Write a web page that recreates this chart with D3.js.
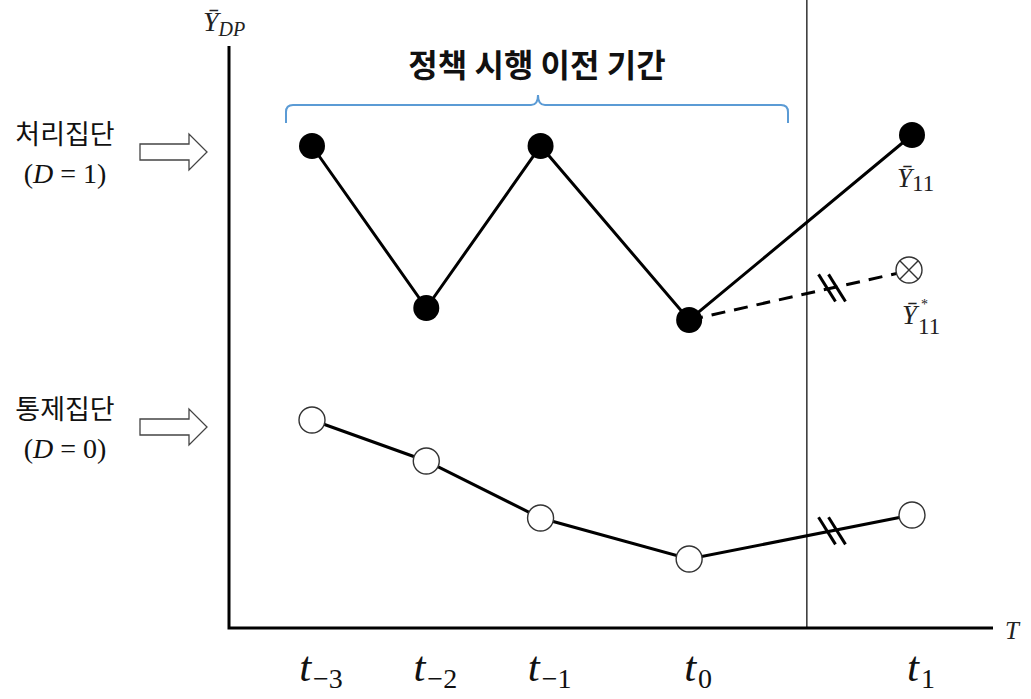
<!DOCTYPE html>
<html>
<head>
<meta charset="utf-8">
<script src="https://cdn.jsdelivr.net/npm/d3@7"></script>
<style>
  html, body { margin: 0; padding: 0; background: #fff; }
  svg { display: block; }
</style>
</head>
<body>
<svg id="chart" width="1031" height="699"></svg>
<script>
// Periods on the time axis (position in time units) and their labels
const periods = ["-3", "-2", "-1", "0", "1"];
const periodX = [-3, -2, -1, 0.3, 2.25];
const policyX = 1.33;            // moment the policy is introduced

// Group means
const treated = [9.64, 6.4, 9.64, 6.16, 9.86];
const control = [4.16, 3.34, 2.2, 1.38, 2.26];
const counterfactual = 7.16;     // treated group without the policy at t1

const svg = d3.select("#chart");
const x = d3.scaleLinear().domain([-3, 2.25]).range([312, 912]);
const y = d3.scaleLinear().domain([0, 10]).range([628, 128]);

const serif = "'Liberation Serif', 'DejaVu Serif', serif";
const kfont = "'Noto Sans CJK KR', 'Noto Sans', sans-serif";

// Policy line
svg.append("line")
  .attr("x1", x(policyX)).attr("x2", x(policyX))
  .attr("y1", 0).attr("y2", y(0))
  .attr("stroke", "#111").attr("stroke-width", 1.3);

// Axes
const axisLeft = 229, axisTop = 46, axisRight = 993;
svg.append("path")
  .attr("d", `M${axisLeft},${axisTop} V${y(0)} H${axisRight}`)
  .attr("fill", "none").attr("stroke", "#000").attr("stroke-width", 3);

// Axis titles
const yt = svg.append("text").attr("x", 203).attr("y", 31)
  .attr("font-family", serif).attr("font-style", "italic").attr("font-size", 28).attr("fill", "#222");
yt.append("tspan").text("Ȳ");
yt.append("tspan").attr("dy", 5).attr("font-size", 20).text("DP");

svg.append("text").attr("x", 1005).attr("y", 639)
  .attr("font-family", serif).attr("font-style", "italic").attr("font-size", 25).attr("fill", "#222")
  .text("T");

// Period tick labels
periods.forEach((p, i) => {
  const t = svg.append("text")
    .attr("x", x(periodX[i]) + 9).attr("y", 681)
    .attr("text-anchor", "middle")
    .attr("font-family", serif).attr("font-size", 43).attr("fill", "#111");
  t.append("tspan").attr("font-style", "italic").text("t");
  t.append("tspan").attr("dx", 2).attr("dy", 7).attr("font-size", 28).text(p.replace("-", "−"));
});

// Pre-policy bracket
const bx0 = 286, bx1 = 788, bmid = 538, btop = 95, bline = 105, bend = 123;
const r = 7;
svg.append("path")
  .attr("d", `M${bx0},${bend} V${bline + r} Q${bx0},${bline} ${bx0 + r},${bline} H${bmid - r} Q${bmid},${bline} ${bmid},${btop}` +
             ` Q${bmid},${bline} ${bmid + r},${bline} H${bx1 - r} Q${bx1},${bline} ${bx1},${bline + r} V${bend}`)
  .attr("fill", "none").attr("stroke", "#5b9bd5").attr("stroke-width", 2);

svg.append("text").attr("x", bmid - 1).attr("y", 77)
  .attr("text-anchor", "middle")
  .attr("font-family", kfont).attr("font-weight", "bold").attr("font-size", 32).attr("fill", "#111")
  .text("정책 시행 이전 기간");

// Group labels with hollow arrows
function groupLabel(name, dval, cy) {
  svg.append("text").attr("x", 65).attr("y", cy - 3)
    .attr("text-anchor", "middle")
    .attr("font-family", kfont).attr("font-size", 27).attr("fill", "#111")
    .text(name);
  const t = svg.append("text").attr("x", 65).attr("y", cy + 36)
    .attr("text-anchor", "middle")
    .attr("font-family", serif).attr("font-size", 28).attr("fill", "#111");
  t.append("tspan").text("(");
  t.append("tspan").attr("font-style", "italic").text("D");
  t.append("tspan").text(" = " + dval + ")");
  const ay = cy + 5;
  svg.append("path")
    .attr("d", `M140,${ay - 8} H189 V${ay - 18} L207,${ay} L189,${ay + 18} V${ay + 8} H140 Z`)
    .attr("fill", "#fff").attr("stroke", "#444").attr("stroke-width", 1.3);
}
groupLabel("처리집단", 1, 147);
groupLabel("통제집단", 0, 422);

const line = d3.line().x(d => x(d[0])).y(d => y(d[1]));
const tPts = periodX.map((px, i) => [px, treated[i]]);
const cPts = periodX.map((px, i) => [px, control[i]]);

// Counterfactual path (dashed)
const cfPts = [[periodX[3], treated[3]], [periodX[4], counterfactual]];
svg.append("path").attr("d", line(cfPts))
  .attr("fill", "none").attr("stroke", "#000").attr("stroke-width", 3)
  .attr("stroke-dasharray", "14,9");

// Observed paths
svg.append("path").attr("d", line(tPts))
  .attr("fill", "none").attr("stroke", "#000").attr("stroke-width", 3);
svg.append("path").attr("d", line(cPts))
  .attr("fill", "none").attr("stroke", "#000").attr("stroke-width", 3);

// Break marks on the segments that cross the policy line
function breakMark(a, b, at) {
  const f = (at - a[0]) / (b[0] - a[0]);
  const px = x(at), py = y(a[1] + f * (b[1] - a[1]));
  const ang = 58 * Math.PI / 180, h = 16;
  [-5, 5].forEach(off => {
    svg.append("line")
      .attr("x1", px + off - h * Math.cos(ang)).attr("y1", py - h * Math.sin(ang))
      .attr("x2", px + off + h * Math.cos(ang)).attr("y2", py + h * Math.sin(ang))
      .attr("stroke", "#000").attr("stroke-width", 3);
  });
}
breakMark(cfPts[0], cfPts[1], 1.55);
breakMark(cPts[3], cPts[4], 1.55);

// Points
const R = 13;
svg.selectAll(".tp").data(tPts).join("circle")
  .attr("cx", d => x(d[0])).attr("cy", d => y(d[1])).attr("r", R).attr("fill", "#000");
svg.selectAll(".cp").data(cPts).join("circle")
  .attr("cx", d => x(d[0])).attr("cy", d => y(d[1])).attr("r", R)
  .attr("fill", "#fff").attr("stroke", "#333").attr("stroke-width", 1.4);

// Counterfactual marker (circled cross)
const ox = x(periodX[4]) - 3, oy = y(counterfactual);
svg.append("circle").attr("cx", ox).attr("cy", oy).attr("r", R)
  .attr("fill", "#fff").attr("stroke", "#333").attr("stroke-width", 1.4);
const d = R * Math.SQRT1_2;
svg.append("path")
  .attr("d", `M${ox - d},${oy - d} L${ox + d},${oy + d} M${ox + d},${oy - d} L${ox - d},${oy + d}`)
  .attr("stroke", "#333").attr("stroke-width", 1.4);

// Value labels at t1
const l1 = svg.append("text").attr("x", x(periodX[4]) - 15).attr("y", 187)
  .attr("font-family", serif).attr("font-size", 27).attr("fill", "#222");
l1.append("tspan").attr("font-style", "italic").text("Ȳ");
l1.append("tspan").attr("dy", 4).attr("font-size", 23).text("11");

const lx = x(periodX[4]) - 10;
svg.append("text").attr("x", lx).attr("y", 324)
  .attr("font-family", serif).attr("font-style", "italic").attr("font-size", 27).attr("fill", "#222")
  .text("Ȳ");
svg.append("text").attr("x", lx + 19).attr("y", 309)
  .attr("font-family", serif).attr("font-size", 14).attr("fill", "#222")
  .text("*");
svg.append("text").attr("x", lx + 16).attr("y", 334)
  .attr("font-family", serif).attr("font-size", 23).attr("fill", "#222")
  .text("11");
</script>
</body>
</html>
